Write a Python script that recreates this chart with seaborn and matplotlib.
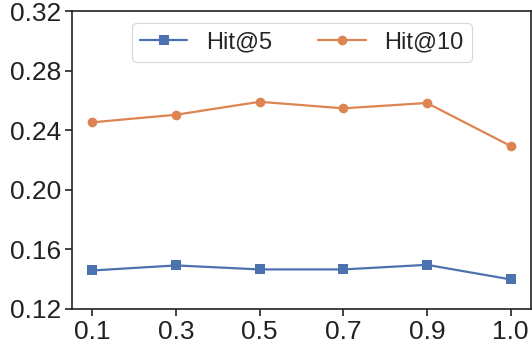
import matplotlib
matplotlib.use("Agg")
import matplotlib.pyplot as plt
import seaborn as sns
import pandas as pd

ratios = ["0.1", "0.3", "0.5", "0.7", "0.9", "1.0"]
hit5 = [0.1457, 0.1491, 0.1464, 0.1464, 0.1495, 0.1397]
hit10 = [0.2453, 0.2504, 0.2591, 0.2547, 0.2583, 0.2294]
yticks = [0.12, 0.16, 0.20, 0.24, 0.28, 0.32]

sns.set_theme(style="ticks")
plt.rcParams["font.family"] = ["Liberation Sans", "DejaVu Sans"]

df = pd.DataFrame({
    "ratio": ratios * 2,
    "value": hit5 + hit10,
    "metric": ["Hit@5"] * len(ratios) + ["Hit@10"] * len(ratios),
})

fig, ax = plt.subplots(figsize=(5.32, 3.5), dpi=100)
sns.lineplot(data=df, x="ratio", y="value", hue="metric", style="metric",
             markers={"Hit@5": "s", "Hit@10": "o"}, dashes=False,
             palette={"Hit@5": "#4C72B0", "Hit@10": "#DD8452"},
             markersize=7, linewidth=1.6, markeredgewidth=0, ax=ax, sort=False)

ax.set_ylim(0.12, 0.32)
ax.set_yticks(yticks)
ax.set_yticklabels([f"{t:.2f}" for t in yticks])
ax.set_xlim(-0.24, 5.25)
ax.set_xlabel("")
ax.set_ylabel("")
ax.tick_params(axis="both", labelsize=19, length=5, width=1.2, colors="#222222", pad=3)
for s in ax.spines.values():
    s.set_linewidth(1.2)
    s.set_color("#222222")

leg = ax.legend(loc="upper center", ncol=2, fontsize=17, frameon=True,
                handlelength=2.0, columnspacing=1.95, borderpad=0.35,
                bbox_to_anchor=(0.5, 1.0))
leg.get_frame().set_linewidth(0.8)

fig.subplots_adjust(left=0.136, right=0.999, top=0.968, bottom=0.118)
fig.savefig("out.png", dpi=100)
